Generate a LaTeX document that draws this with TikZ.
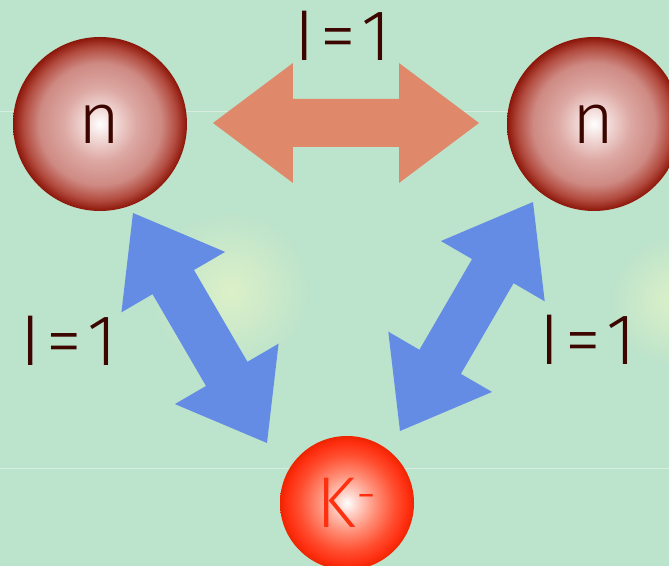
\documentclass[tikz,border=0pt]{standalone}
\usepackage{fontspec}
\setmainfont{Fira Sans Light}
\usepackage{xcolor}
\usepackage{tikz}
\usetikzlibrary{positioning,calc}

\definecolor{bgGreen}{HTML}{BCE3CB}
\definecolor{glowYellow}{HTML}{DCF0C8}
\definecolor{arrOrange}{HTML}{E0886A}
\definecolor{arrBlue}{HTML}{648CE4}
\definecolor{txtDark}{HTML}{3D0500}
\definecolor{txtRed}{HTML}{FF3010}
% sphere colours
\definecolor{nA}{HTML}{F4E0DE}
\definecolor{nB}{HTML}{DDA8A3}
\definecolor{nC}{HTML}{CE8A83}
\definecolor{nD}{HTML}{B24A3E}
\definecolor{nE}{HTML}{8C1509}
\definecolor{kA}{HTML}{FFD2C8}
\definecolor{kB}{HTML}{FF8C74}
\definecolor{kC}{HTML}{FF4E30}
\definecolor{kD}{HTML}{FF3012}
\definecolor{kE}{HTML}{EE2400}

% circle edge sits at 25bp of the shading
\pgfdeclareradialshading{neutronball}{\pgfpoint{0bp}{0bp}}{%
  color(0bp)=(white); color(3.5bp)=(nA); color(10.5bp)=(nB); color(17.5bp)=(nC);
  color(22bp)=(nD); color(25bp)=(nE); color(50bp)=(nE)}
\pgfdeclareradialshading{kaonball}{\pgfpoint{0bp}{0bp}}{%
  color(0bp)=(white); color(4bp)=(kA); color(11bp)=(kB); color(18bp)=(kC);
  color(22.5bp)=(kD); color(25bp)=(kE); color(50bp)=(kE)}

\tikzset{
  every node/.style={anchor=center}
}

% double headed block arrow between two tip coordinates
\newcommand{\bigarrow}[3]{%
  \fill[#3] (#1) -- ($(#1)!2cm!36.87:(#2)$) -- ($(#1)!1.67cm!16.7:(#2)$)
    -- ($(#2)!1.67cm!-16.7:(#1)$) -- ($(#2)!2cm!-36.87:(#1)$) -- (#2)
    -- ($(#2)!2cm!36.87:(#1)$) -- ($(#2)!1.67cm!16.7:(#1)$)
    -- ($(#1)!1.67cm!-16.7:(#2)$) -- ($(#1)!2cm!-36.87:(#2)$) -- cycle;}
\newcommand{\isotext}{I\kern3pt=\kern3pt1}

\begin{document}
\begin{tikzpicture}[
  font=\fontsize{41}{43}\selectfont,
  nball/.style={circle, minimum size=3.48cm, inner sep=0pt, shading=neutronball, shade, text=txtDark},
  kball/.style={circle, minimum size=2.68cm, inner sep=0pt, shading=kaonball, shade, text=txtRed},
  isolabel/.style={text=txtDark, inner sep=0pt}
]

\useasboundingbox (0,0) rectangle (13.38,11.32);
\clip (0,0) rectangle (13.38,11.32);

% background
\fill[bgGreen] (0,0) rectangle (13.38,11.32);
\shade[inner color=glowYellow, outer color=bgGreen] (4.6,5.5) circle (1.6);
\shade[inner color=glowYellow, outer color=bgGreen] (13.5,5.3) circle (1.3);
\draw[white, opacity=0.4, line width=0.5pt] (0,9.10) -- (13.38,9.10);
\draw[white, opacity=0.4, line width=0.5pt] (0,1.96) -- (13.38,1.96);

% particles
\node[nball] (nL) at (2.00,8.84) {n};
\node[nball] (nR) at (11.88,8.84) {n};
\node[kball] (kaon) at (6.94,1.26) {K\textsuperscript{-}};

% arrow tips
\coordinate (topA) at (4.26,8.86);
\coordinate (topB) at (9.58,8.86);
\coordinate (leftA) at (2.66,7.06);
\coordinate (leftB) at (5.34,2.46);
\coordinate (rightA) at (10.66,7.28);
\coordinate (rightB) at (8.00,2.70);

% exchange arrows
\bigarrow{topA}{topB}{arrOrange}
\bigarrow{leftA}{leftB}{arrBlue}
\bigarrow{rightA}{rightB}{arrBlue}

% isospin labels
\node[isolabel] (isoTop) at (6.86,10.60) {\isotext};
\node[isolabel] (isoLeft) at (1.38,4.50) {\isotext};
\node[isolabel] (isoRight) at (11.76,4.52) {\isotext};

\end{tikzpicture}
\end{document}
